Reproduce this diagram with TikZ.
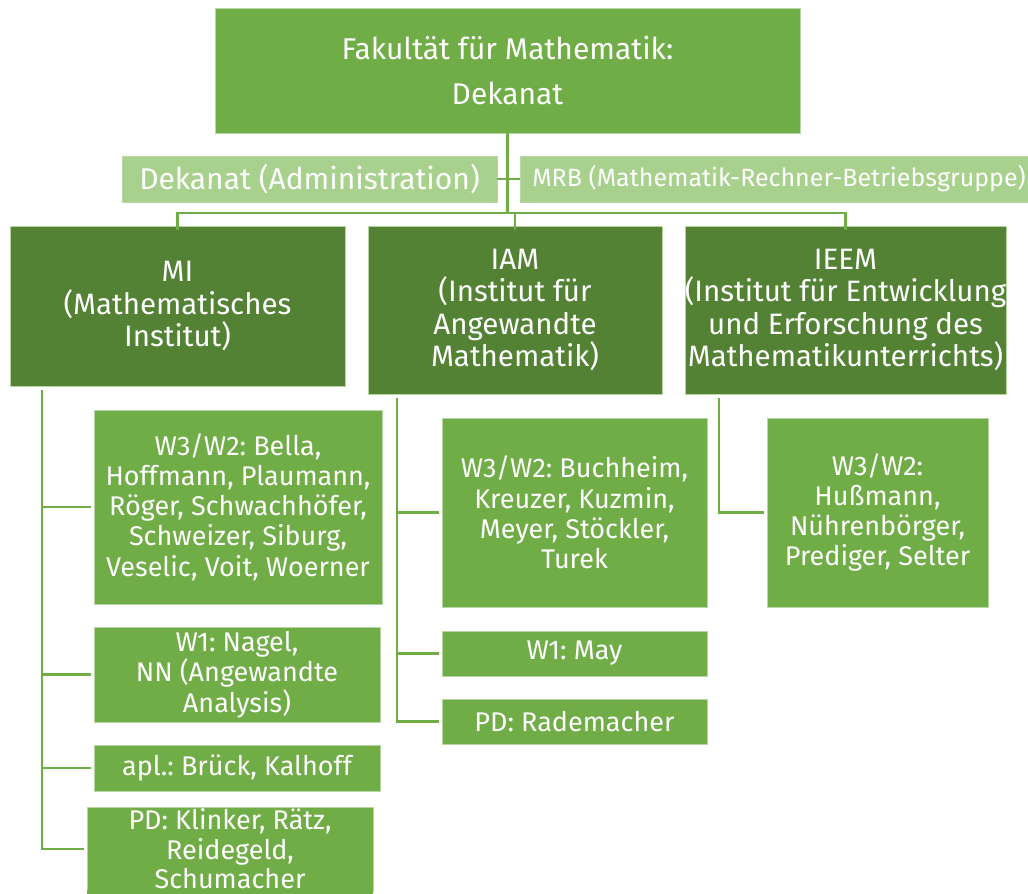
\documentclass[tikz,border=0pt]{standalone}
\usepackage{fontspec}
\setmainfont{Fira Sans}
\frenchspacing
\definecolor{gmid}{HTML}{70AD47}
\definecolor{gdark}{HTML}{548235}
\definecolor{glight}{HTML}{A9D18E}
\definecolor{gedge}{HTML}{B8D6A4}
\tikzset{
  box/.style={rectangle, inner sep=0pt, text=white, align=center, draw=gedge, line width=0.6pt},
  topbox/.style={box, fill=gmid, font=\fontsize{30}{45}\selectfont},
  adminbox/.style={box, fill=glight, font=\fontsize{30}{30}\selectfont},
  mrbbox/.style={box, fill=glight, font=\fontsize{25}{25}\selectfont},
  instbox/.style={box, fill=gdark, font=\fontsize{29.5}{32.5}\selectfont},
  itembox/.style={box, fill=gmid, font=\fontsize{27}{30.3}\selectfont},
  conn/.style={draw=gmid, line width=2.8pt}
}
\newcommand{\bx}[7]{% name, style, x1, y1, x2, y2, text
  \node[#2, minimum width={#5-#3}, minimum height={#6-#4}] (#1) at ({(#3+#5)/2},{(#4+#6)/2}) {#7};}
\begin{document}
\begin{tikzpicture}[x=1pt,y=-1pt]
\useasboundingbox (0,0) rectangle (1028,894);
% top
\bx{top}{topbox}{215}{8}{800}{133}{Fakultät für Mathematik:\\Dekanat}
\bx{adm}{adminbox}{122}{156}{497}{202}{Dekanat (Administration)}
\bx{mrb}{mrbbox}{520}{156}{1040}{202}{\hspace*{-2pt}MRB (Mathematik-Rechner-Betriebsgruppe)}
% institutes
\bx{mi}{instbox}{10}{226}{345}{386}{MI\\(Mathematisches\\Institut)}
\bx{iam}{instbox}{368}{226}{662}{394}{IAM\\(Institut für\\Angewandte\\Mathematik)}
\bx{ieem}{instbox}{686}{226}{1005}{394}{IEEM\\(Institut für Entwicklung\\und Erforschung des\\Mathematikunterrichts)}
% MI items
\bx{mia}{itembox}{94}{410}{382}{604}{W3/W2: Bella,\\Hoffmann, Plaumann,\\Röger, Schwachhöfer,\\Schweizer, Siburg,\\Veselic, Voit, Woerner}
\bx{mib}{itembox}{94}{627}{380}{722}{W1: Nagel,\\NN (Angewandte\\Analysis)}
\bx{mic}{itembox}{94}{745}{380}{791}{apl.: Brück, Kalhoff}
\bx{mid}{itembox, font=\fontsize{27}{29.5}\selectfont}{87}{807}{373}{891}{PD: Klinker, Rätz,\\Reidegeld,\\Schumacher}
\fill[gmid] (87,890) rectangle (373,894);
% IAM items
\bx{iama}{itembox}{442}{418}{707}{607}{W3/W2: Buchheim,\\Kreuzer, Kuzmin,\\Meyer, Stöckler,\\Turek}
\bx{iamb}{itembox}{442}{631}{707}{676}{W1: May}
\bx{iamc}{itembox}{442}{699}{707}{744}{PD: Rademacher}
% IEEM items
\bx{ieema}{itembox}{767}{418}{988}{607}{W3/W2:\\Hußmann,\\Nührenbörger,\\Prediger, Selter}
% connectors top
\coordinate (bar) at (0,213);
\draw[conn] (top.south) -- (top.south |- bar);
\draw[conn] (adm.east) -- (mrb.west);
\draw[conn] ([yshift=-4]mi.north) |- (bar -| iam.north) -| ([yshift=-4]ieem.north);
\draw[conn] (bar -| iam.north) -- ([yshift=-4]iam.north);
% MI trunk
\coordinate (mit) at (42,390);
\foreach \n in {mia,mib,mic,mid} \draw[conn] (mit) |- ([xshift=-3]\n.west);
% IAM trunk
\coordinate (iamt) at (397,398);
\foreach \n in {iama,iamb,iamc} \draw[conn] (iamt) |- ([xshift=-3]\n.west);
% IEEM trunk
\coordinate (ieemt) at (719,398);
\draw[conn] (ieemt) |- ([xshift=-3]ieema.west);
\end{tikzpicture}
\end{document}
